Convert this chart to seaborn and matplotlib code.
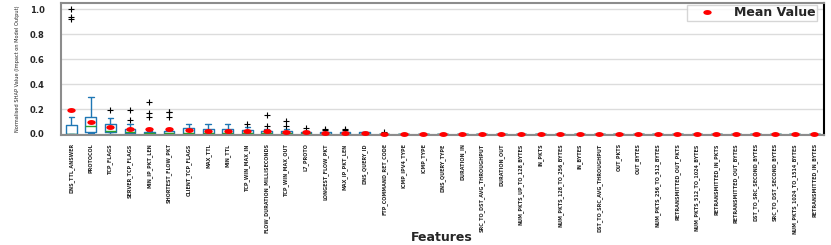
import numpy as np
import pandas as pd
import matplotlib
matplotlib.use("Agg")
import matplotlib.pyplot as plt
from matplotlib import font_manager
from matplotlib.path import Path
from matplotlib.transforms import Affine2D
import seaborn as sns

features = [
    "DNS_TTL_ANSWER", "PROTOCOL", "TCP_FLAGS", "SERVER_TCP_FLAGS", "MIN_IP_PKT_LEN",
    "SHORTEST_FLOW_PKT", "CLIENT_TCP_FLAGS", "MAX_TTL", "MIN_TTL", "TCP_WIN_MAX_IN",
    "FLOW_DURATION_MILLISECONDS", "TCP_WIN_MAX_OUT", "L7_PROTO", "LONGEST_FLOW_PKT",
    "MAX_IP_PKT_LEN", "DNS_QUERY_ID", "FTP_COMMAND_RET_CODE", "ICMP_IPV4_TYPE",
    "ICMP_TYPE", "DNS_QUERY_TYPE", "DURATION_IN", "SRC_TO_DST_AVG_THROUGHPUT",
    "DURATION_OUT", "NUM_PKTS_UP_TO_128_BYTES", "IN_PKTS", "NUM_PKTS_128_TO_256_BYTES",
    "IN_BYTES", "DST_TO_SRC_AVG_THROUGHPUT", "OUT_PKTS", "OUT_BYTES",
    "NUM_PKTS_256_TO_512_BYTES", "RETRANSMITTED_OUT_PKTS", "NUM_PKTS_512_TO_1024_BYTES",
    "RETRANSMITTED_IN_PKTS", "RETRANSMITTED_OUT_BYTES", "DST_TO_SRC_SECOND_BYTES",
    "SRC_TO_DST_SECOND_BYTES", "NUM_PKTS_1024_TO_1514_BYTES", "RETRANSMITTED_IN_BYTES",
]

# Box summary values (normalised SHAP values)
whisker_low = [0.0, 0.005, 0.003, 0.002, 0.0, 0.0, 0.0, 0.0, 0.0, 0.0,
               0.0, 0.0, 0.0, 0.0, 0.0, 0.0, 0.0] + [0.0] * 22
q1_values = [0.0, 0.018, 0.015, 0.010, 0.002, 0.002, 0.003, 0.003, 0.003, 0.002,
             0.002, 0.002, 0.001, 0.001, 0.001, 0.0, 0.0] + [0.0] * 22
median_values = [0.003, 0.062, 0.027, 0.020, 0.006, 0.008, 0.010, 0.010, 0.010, 0.008,
                 0.006, 0.006, 0.004, 0.003, 0.003, 0.002, 0.0] + [0.0] * 22
q3_values = [0.070, 0.139, 0.084, 0.043, 0.018, 0.024, 0.048, 0.037, 0.037, 0.032,
             0.025, 0.024, 0.015, 0.012, 0.013, 0.012, 0.001] + [0.0] * 22
whisker_high = [0.134, 0.294, 0.126, 0.078, 0.024, 0.030, 0.078, 0.078, 0.078, 0.060,
                0.040, 0.040, 0.025, 0.020, 0.020, 0.018, 0.002] + [0.0] * 22
outlier_values = [
    [0.92, 0.935, 1.0], [], [0.196], [0.115, 0.196], [0.139, 0.168, 0.257],
    [0.139, 0.174, 0.18], [], [], [], [0.082],
    [0.065, 0.15], [0.062, 0.102], [0.051], [0.032, 0.037],
    [0.032, 0.037], [], [0.013],
] + [[] for _ in range(22)]
mean_values = [0.19, 0.096, 0.054, 0.038, 0.040, 0.037, 0.030, 0.028, 0.027, 0.025,
               0.024, 0.020, 0.013, 0.010, 0.010, 0.007, 0.003] + [0.0] * 22

# Build samples whose quartiles reproduce the read summary values (n = 17)
rows = []
for i, f in enumerate(features):
    top = [whisker_high[i]] + list(outlier_values[i])
    top = top + [whisker_high[i]] * (4 - len(top))
    sample = ([whisker_low[i]] + [q1_values[i]] * 4 + [median_values[i]] * 7
              + [q3_values[i]] + top)
    rows += [(f, v) for v in sample]
df = pd.DataFrame(rows, columns=["feature", "value"])

sns.set_style("white")
plt.rcParams["font.family"] = ["DejaVu Sans"]

# look for a condensed / narrow face if one is installed
narrow_family, narrow_stretch = "Liberation Sans", "normal"
for fe in font_manager.fontManager.ttflist:
    st = str(fe.stretch).lower()
    if "narrow" in fe.name.lower() or "condensed" in fe.name.lower() or "condensed" in st:
        narrow_family, narrow_stretch = fe.name, fe.stretch
        break

fig = plt.figure(figsize=(8.31, 2.45), dpi=100)
ax = fig.add_axes([0.0740, 0.449, 0.9176, 0.5388])

sns.boxplot(
    data=df, x="feature", y="value", order=features, ax=ax,
    fill=False, width=0.55, linewidth=1.0, whis=1.5,
    boxprops=dict(color="#1f77b4"),
    whiskerprops=dict(color="#1f77b4"),
    capprops=dict(color="#1f77b4"),
    medianprops=dict(color="#2ca02c"),
    flierprops=dict(marker="+", markeredgecolor="black", markersize=4, markeredgewidth=0.8),
)

ellipse = Path.unit_circle().transformed(Affine2D().scale(1.7, 1.0))
sns.pointplot(
    x=features, y=mean_values, order=features, ax=ax,
    linestyle="none", marker=ellipse, markersize=6.0, markeredgewidth=0,
    color="red", errorbar=None, label="Mean Value",
)
for ln in ax.lines:
    if ln.get_label() == "Mean Value":
        ln.set_zorder(6)
        ln.set_clip_on(False)

ax.set_xlim(-0.5, len(features) - 0.5)
ax.set_ylim(-0.008, 1.05)
ax.set_yticks([0.0, 0.2, 0.4, 0.6, 0.8, 1.0])
ax.set_yticklabels(["0.0", "0.2", "0.4", "0.6", "0.8", "1.0"],
                   fontsize=6, fontweight="bold", family="DejaVu Sans")
ax.set_xticks(range(len(features)))
ax.set_xticklabels(features, rotation=90, fontsize=5.0, fontweight="bold",
                   family=narrow_family, fontstretch=narrow_stretch)
ax.tick_params(axis="y", length=3, width=0.8, pad=9, color="#555555")
ax.tick_params(axis="x", length=3, width=0.8, pad=3, color="#555555")

ax.yaxis.grid(True, color="#dcdcdc", linewidth=1.0)
ax.xaxis.grid(False)
ax.set_axisbelow(True)

for side in ["left", "top", "bottom"]:
    ax.spines[side].set_color("#8c8c8c")
    ax.spines[side].set_linewidth(1.5)
ax.spines["right"].set_color("black")
ax.spines["right"].set_linewidth(1.5)

ylab = ax.set_ylabel("Normalised SHAP Value (Impact on Model Output)", fontsize=6,
                     family=narrow_family, fontstretch=narrow_stretch)
ax.yaxis.set_label_coords(-0.0545, 0.5)
ax.set_xlabel("Features", fontsize=9, fontweight="bold")
ax.xaxis.set_label_coords(0.499, -0.73)

handles, labels = ax.get_legend_handles_labels()
ax.legend(handles[:1], ["Mean Value"], loc="upper right",
          bbox_to_anchor=(0.9908, 0.985), borderaxespad=0.0,
          prop=dict(weight="bold", size=9), frameon=True, borderpad=0.12,
          handletextpad=0.65, handlelength=3.0, edgecolor="#cccccc",
          fancybox=False, markerscale=1.0)

# fit text lengths to the space they take in the reference
fig.canvas.draw()
r = fig.canvas.get_renderer()
maxh = max(t.get_window_extent(r).height for t in ax.get_xticklabels())
fs = 5.0 * 92.0 / maxh
for t in ax.get_xticklabels():
    t.set_fontsize(fs)
yh = ylab.get_window_extent(r).height
ylab.set_fontsize(6 * 128.0 / yh)

fig.savefig("out.png", dpi=100)
